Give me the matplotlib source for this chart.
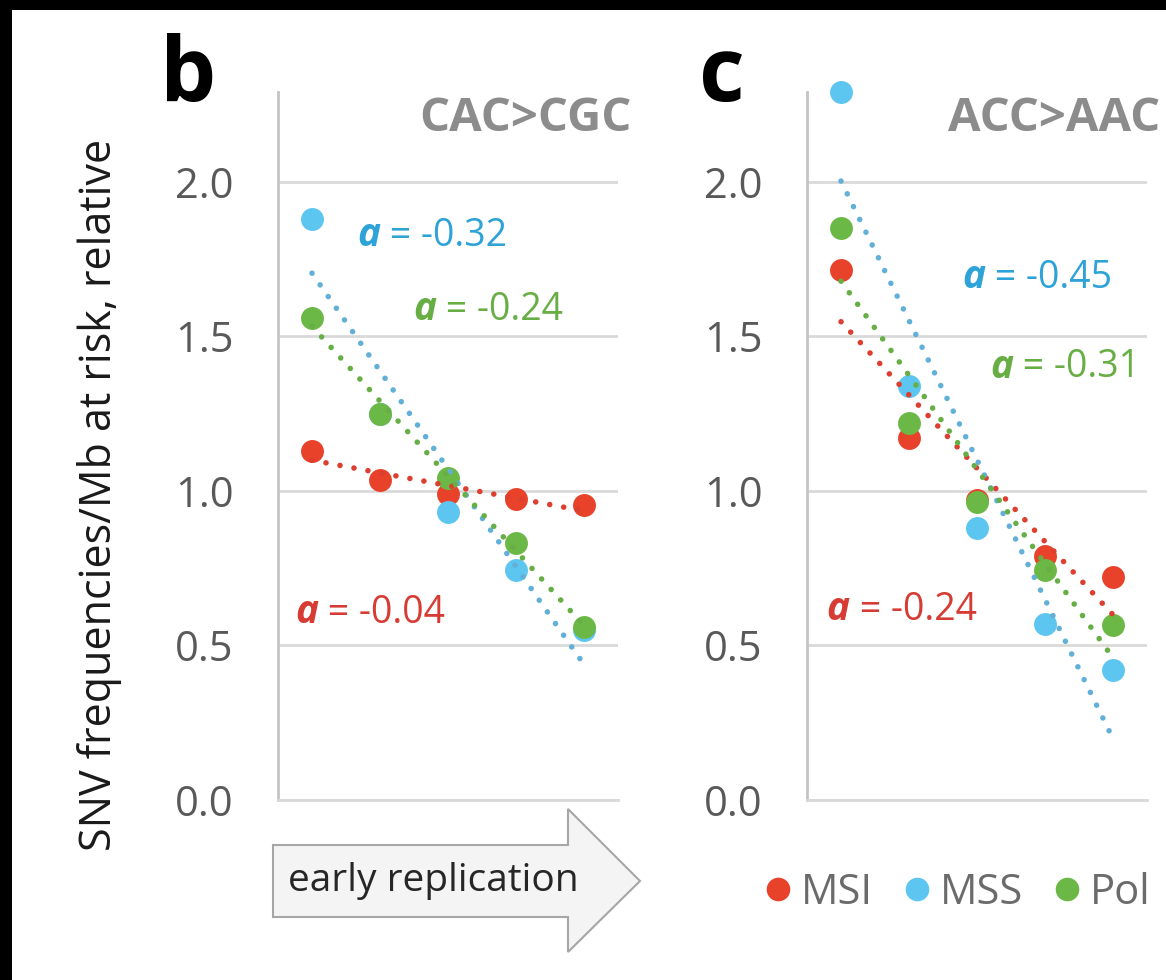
import matplotlib
matplotlib.use("Agg")
import matplotlib.pyplot as plt
from matplotlib.lines import Line2D
from matplotlib.patches import Polygon, Rectangle
import numpy as np

W, H, DPI = 1166, 980, 100

# replication timing bins, late -> early
bins = [1, 2, 3, 4, 5]
groups = ["MSI", "MSS", "Pol"]

# panel b, CAC>CGC
b_msi = [1.13, 1.035, 0.99, 0.975, 0.955]
b_mss = [1.88, 1.25, 0.93, 0.745, 0.55]
b_pol = [1.56, 1.25, 1.04, 0.83, 0.56]
b_slopes = ["-0.04", "-0.32", "-0.24"]

# panel c, ACC>AAC
c_msi = [1.715, 1.17, 0.97, 0.79, 0.72]
c_mss = [2.29, 1.34, 0.88, 0.57, 0.42]
c_pol = [1.85, 1.22, 0.965, 0.745, 0.565]
c_slopes = ["-0.24", "-0.45", "-0.31"]

yticks = [0.0, 0.5, 1.0, 1.5, 2.0]

DOT = {"MSI": "#e8422b", "MSS": "#5cc6f0", "Pol": "#6cb846"}
TREND = {"MSI": "#dc3f2f", "MSS": "#62b0d8", "Pol": "#66ae45"}
TXT = {"MSI": "#d63b34", "MSS": "#2ea3d8", "Pol": "#68ae45"}

plt.rcParams["font.family"] = ["Open Sans", "DejaVu Sans"]

fig = plt.figure(figsize=(W / DPI, H / DPI), dpi=DPI, facecolor="black")
fig.add_artist(Rectangle((12 / W, 0), 1, 1 - 10 / H, transform=fig.transFigure,
                         facecolor="white", edgecolor="none", zorder=-10))


def fx(x):
    return x / W


def fy(y):
    return 1 - y / H


def draw_panel(ax, values, slopes, title, label_pos):
    for z, name in enumerate(groups):
        ax.plot(bins, values[name], "o", ms=16.5, color=DOT[name], mec="none",
                clip_on=False, zorder=3 + z)
    for name in groups:
        k, c = np.polyfit(bins, values[name], 1)
        xs = np.array([bins[0], bins[-1]])
        ax.plot(xs, k * xs + c, color=TREND[name], lw=4.0, ls=(0, (0.01, 2.55)),
                dash_capstyle="round", zorder=7, clip_on=False)
    for name, s, (x, y) in zip(groups, slopes, label_pos):
        t = ax.text(x, y, "a", color=TXT[name], fontsize=28, fontstyle="italic",
                    fontweight="bold", ha="left", va="center", zorder=8)
        ax.annotate(" = " + s, xy=(1, 0.5), xycoords=t, color=TXT[name], fontsize=27,
                    ha="left", va="center", zorder=8)

    ax.set_xlim(0.5, 5.5)
    ax.set_ylim(0, 2.29)
    ax.set_xticks([])
    ax.set_yticks(yticks)
    ax.set_yticklabels([f"{v:.1f}" for v in yticks])
    ax.tick_params(axis="y", length=0, pad=32, labelsize=30, labelcolor="#595959")
    ax.grid(axis="y", color="#d9d9d9", lw=2)
    ax.set_axisbelow(True)
    for side in ["top", "right"]:
        ax.spines[side].set_visible(False)
    ax.spines["left"].set_color("#c4c4c4")
    ax.spines["left"].set_linewidth(2)
    ax.spines["bottom"].set_color("#d9d9d9")
    ax.spines["bottom"].set_linewidth(2)
    ax.text(1.04, 0.963, title, transform=ax.transAxes, ha="right", va="center",
            fontsize=34, fontweight="bold", color="#8c8c8c")


ax_b = fig.add_axes([fx(278), fy(800), 340 / W, 708 / H])
ax_c = fig.add_axes([fx(807), fy(800), 340 / W, 708 / H])
for a in (ax_b, ax_c):
    a.set_facecolor("none")

# label positions are order MSI, MSS, Pol
draw_panel(ax_b, dict(zip(groups, [b_msi, b_mss, b_pol])), b_slopes, "CAC>CGC",
           [(0.75, 0.605), (1.66, 1.825), (2.49, 1.585)])
draw_panel(ax_c, dict(zip(groups, [c_msi, c_mss, c_pol])), c_slopes, "ACC>AAC",
           [(0.79, 0.615), (2.78, 1.69), (3.19, 1.40)])

fig.text(fx(160), fy(101), "b", fontsize=64, fontweight="bold", color="black",
         ha="left", va="baseline")
fig.text(fx(699), fy(101), "c", fontsize=64, fontweight="bold", color="black",
         ha="left", va="baseline")

fig.text(fx(100), fy(495), "SNV frequencies/Mb at risk, relative", rotation=90,
         ha="center", va="center", fontsize=31, color="#1a1a1a")

# block arrow under panel b
arrow_px = [(273, 845), (568, 845), (568, 809), (640, 881), (568, 952),
            (568, 917), (273, 917)]
fig.add_artist(Polygon([(fx(x), fy(y)) for x, y in arrow_px], closed=True,
                       transform=fig.transFigure, facecolor="#f4f4f4",
                       edgecolor="#a6a6a6", lw=1.5))
fig.text(fx(288), fy(881), "early replication", fontsize=28, color="#262626",
         ha="left", va="center")

handles = [Line2D([], [], ls="none", marker="o", ms=17, color=DOT[g], mec="none")
           for g in groups]
leg = fig.legend(handles, groups, loc="center", bbox_to_anchor=(fx(958), fy(893)),
                 ncol=3, frameon=False, fontsize=30, handlelength=0.6,
                 handletextpad=0.25, columnspacing=0.75, borderpad=0)
for t in leg.get_texts():
    t.set_color("#6b6b6b")

fig.savefig("out.png", dpi=DPI)
